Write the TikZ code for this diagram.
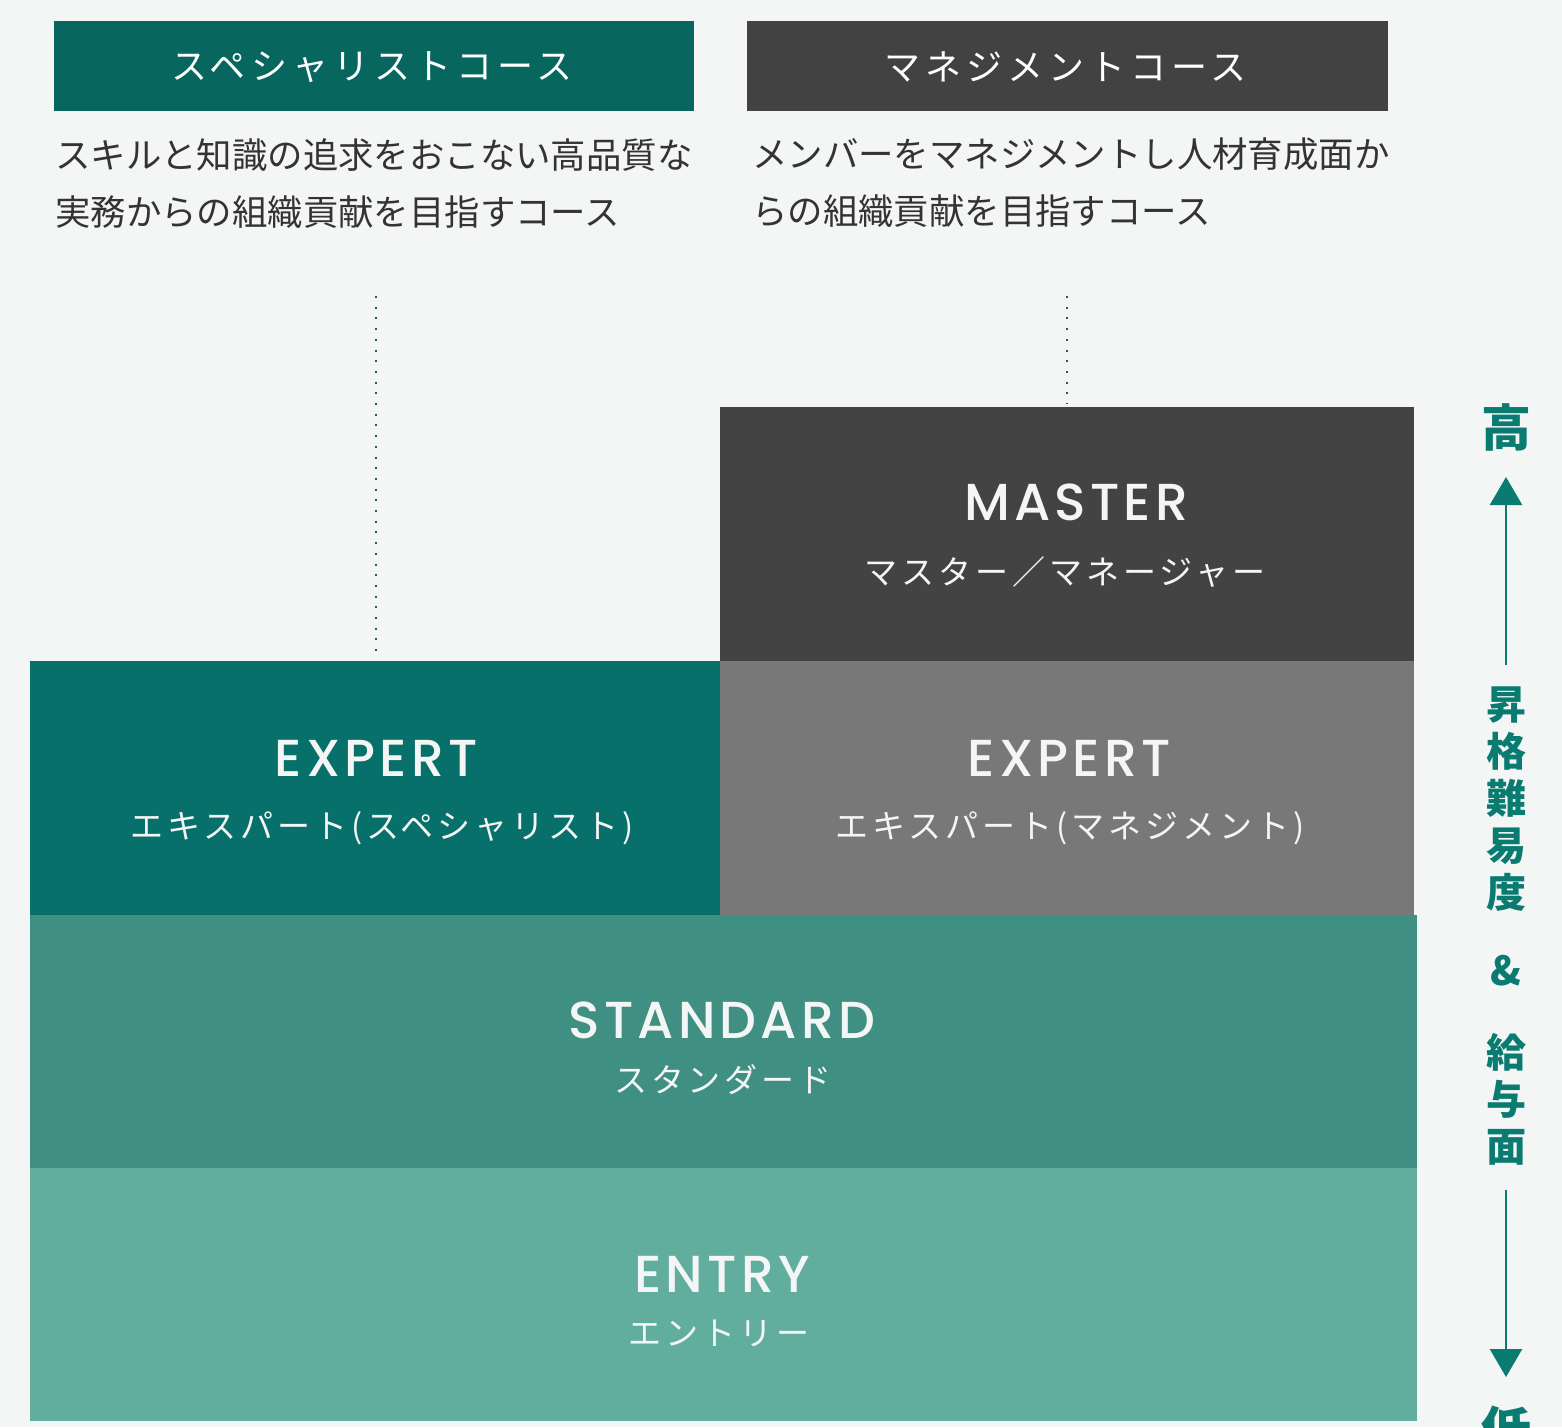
\documentclass[tikz,border=0pt]{standalone}
\usepackage{fontspec}
\usetikzlibrary{arrows.meta}
\newfontfamily\jp{Noto Sans CJK JP}
\newfontfamily\jphead[LetterSpace=14]{Noto Sans CJK JP}
\newfontfamily\jpsub[LetterSpace=12]{Noto Sans CJK JP}
\newfontfamily\pop[LetterSpace=8, UprightFont={* Medium}]{Poppins}
\definecolor{bg}{HTML}{F4F6F5}
\definecolor{tealhead}{HTML}{07665E}
\definecolor{grayhead}{HTML}{424242}
\definecolor{masterc}{HTML}{434343}
\definecolor{expertl}{HTML}{08706A}
\definecolor{expertr}{HTML}{787878}
\definecolor{standardc}{HTML}{3F9082}
\definecolor{entryc}{HTML}{62AE9E}
\definecolor{accent}{HTML}{0A7B70}
\definecolor{desc}{HTML}{333333}
\definecolor{dotc}{HTML}{1F5F5A}
\begin{document}
\begin{tikzpicture}[x=1pt,y=-1pt,
  box/.style={inner sep=0pt, outer sep=0pt, anchor=north west, draw=none},
  head/.style={text=white, inner sep=0pt, font=\jphead\fontsize{36}{40}\selectfont},
  desctext/.style={text=desc, inner sep=0pt, anchor=north west, align=left, font=\jp\fontsize{35.4}{57}\selectfont},
  title/.style={text=bg, inner sep=0pt, font=\pop\fontsize{52}{60}\selectfont},
  subt/.style={text=bg, inner sep=0pt, font=\jpsub\fontsize{33}{38}\selectfont},
  side/.style={text=accent, inner sep=0pt, font=\jp\bfseries\fontsize{40}{47}\selectfont, align=center},
  dotline/.style={draw=dotc, line width=2pt, dash pattern=on 2pt off 8.7pt},
  axis/.style={draw=accent, line width=2.5pt, -{Triangle[length=28pt,width=32pt]}}
]
\useasboundingbox[fill=bg] (0,0) rectangle (1562,1427);

% course headers
\node[box, fill=tealhead, minimum width=640pt, minimum height=90pt] (hspec) at (54,21) {};
\node[box, fill=grayhead, minimum width=641pt, minimum height=90pt] (hman) at (747,21) {};
\node[head] (hspect) at ([xshift=-2pt,yshift=-1pt]hspec.center) {スペシャリストコース};
\node[head] (hmant) at ([xshift=-2pt,yshift=-1pt]hman.center) {マネジメントコース};

% descriptions
\node[desctext] (dspec) at (55,138) {スキルと知識の追求をおこない高品質な\\実務からの組織貢献を目指すコース};
\node[desctext] (dman) at (752,138) {メンバーをマネジメントし人材育成面か\\らの組織貢献を目指すコース};

% level boxes
\node[box, fill=masterc, minimum width=694pt, minimum height=254pt] (master) at (720,407) {};
\node[box, fill=expertl, minimum width=690pt, minimum height=254pt] (expl) at (30,661) {};
\node[box, fill=expertr, minimum width=694pt, minimum height=254pt] (expr) at (720,661) {};
\node[box, fill=standardc, minimum width=1387pt, minimum height=253pt] (std) at (30,915) {};
\node[box, fill=entryc, minimum width=1387pt, minimum height=253pt] (entry) at (30,1168) {};

% labels
\node[title] (mastert) at (1076,502) {MASTER};
\node[subt] (masters) at (1065,572) {マスター／マネージャー};
\node[title] (explt) at (376,758) {EXPERT};
\node[subt] (expls) at (382,828) {エキスパート(スペシャリスト)};
\node[title] (exprt) at (1069,758) {EXPERT};
\node[subt] (exprs) at (1070,828) {エキスパート(マネジメント)};
\node[title] (stdt) at (722,1020) {STANDARD};
\node[subt] (stds) at (723,1080) {スタンダード};
\node[title] (entryt) at (722,1274) {ENTRY};
\node[subt] (entrys) at (719,1333) {エントリー};

% dotted lines
\coordinate (d1a) at (376,296);
\coordinate (d1b) at (376,652);
\coordinate (d2a) at (1067,296);
\coordinate (d2b) at (1067,404);
\draw[dotline] (d1a) -- (d1b);
\draw[dotline] (d2a) -- (d2b);

% side axis
\node[side, font=\jp\bfseries\fontsize{50}{50}\selectfont] (high) at (1506,427) {高};
\node[side] (diff) at (1506,799.5) {昇\\格\\難\\易\\度};
\node[side] (amp) at (1506,971) {\&};
\node[side] (pay) at (1506,1099) {給\\与\\面};
\node[side, font=\jp\bfseries\fontsize{50}{50}\selectfont] (low) at (1506,1430) {低};
\coordinate (upa) at (1506,665);
\coordinate (upb) at (1506,477);
\coordinate (dna) at (1506,1190);
\coordinate (dnb) at (1506,1377);
\draw[axis] (upa) -- (upb);
\draw[axis] (dna) -- (dnb);
\end{tikzpicture}
\end{document}
